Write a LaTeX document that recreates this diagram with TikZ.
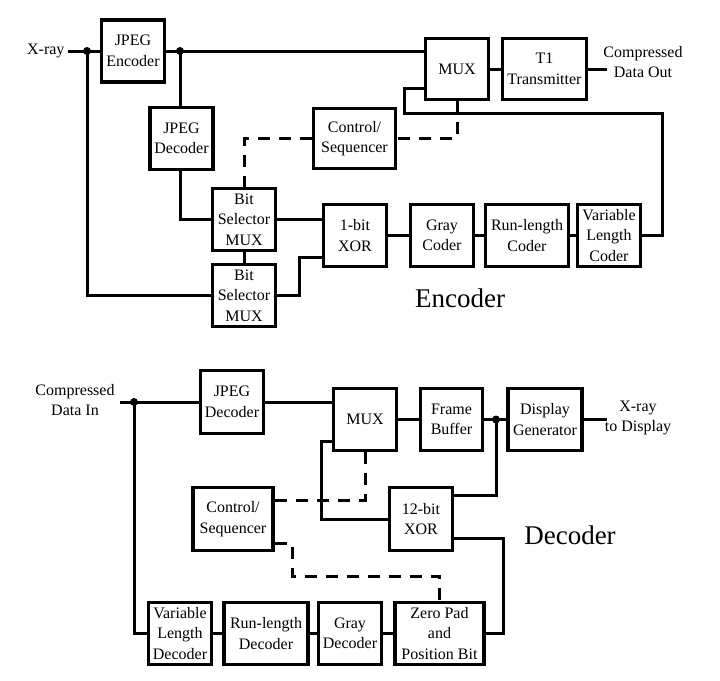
\documentclass[tikz,border=0pt]{standalone}
\usepackage{fontspec}
\setmainfont{Liberation Serif}
\usetikzlibrary{calc}

\begin{document}
\begin{tikzpicture}[x=1pt, y=-1pt,
    blk/.style={draw, line width=3.4pt, align=center, inner sep=0pt,
        font=\fontsize{16}{20.5}\selectfont, minimum width=63pt, minimum height=62pt},
    wire/.style={line width=3pt},
    ctl/.style={line width=3pt, dash pattern=on 12pt off 9pt},
    lbl/.style={align=center, font=\fontsize{16}{20.5}\selectfont},
    big/.style={font=\fontsize{27}{30}\selectfont}]
    \useasboundingbox (0,0) rectangle (720,680);

    % Encoder blocks
    \node[blk] (jenc) at (133,51) {JPEG\\Encoder};
    \node[blk] (jdec) at (181.5,138.5) {JPEG\\Decoder};
    \node[blk, minimum height=61pt] (mux) at (457,69) {MUX};
    \node[blk, minimum width=84pt, minimum height=61pt] (tx) at (544.5,69) {T1\\Transmitter};
    \node[blk, minimum width=82pt, minimum height=60pt] (ctrl) at (354.5,138.5) {Control/\\Sequencer};
    \node[blk] (bsa) at (244,219.5) {Bit\\Selector\\MUX};
    \node[blk] (bsb) at (244,295.5) {Bit\\Selector\\MUX};
    \node[blk] (xor) at (355,235.5) {1-bit\\XOR};
    \node[blk] (gray) at (442,235.5) {Gray\\Coder};
    \node[blk, minimum width=83pt] (rlc) at (527,235.5) {Run-length\\Coder};
    \node[blk] (vlc) at (609,235.5) {Variable\\Length\\Coder};

    % Encoder labels
    \coordinate (xin) at (68,51);
    \coordinate (dout) at (607,69);
    \node[lbl, anchor=east] (xlbl) at (xin) {X-ray};
    \node[lbl] (outlbl) at (643,62) {Compressed\\Data Out};
    \node[big] (enclbl) at (460,298) {Encoder};

    % Encoder junctions
    \coordinate (j1) at (87,51);
    \coordinate (j2) at (180,51);
    \coordinate (fb1) at (662,113);
    \coordinate (fb2) at (404,88);
    \coordinate (xb) at (299,257);

    % Encoder wiring
    \draw[wire] (xin) -- (jenc.west);
    \draw[wire] (jenc.east) -- (mux.west |- jenc.east);
    \draw[wire] (j2) -- (j2 |- jdec.north);
    \draw[wire] (j2 |- jdec.south) |- (bsa.west);
    \draw[wire] (j1) |- (bsb.west);
    \draw[wire] (bsa.south) -- (bsb.north);
    \draw[wire] (bsa.east) -- (xor.west |- bsa.east);
    \draw[wire] (bsb.east) -| (xb) -- (xor.west |- xb);
    \draw[wire] (xor.east) -- (gray.west);
    \draw[wire] (gray.east) -- (rlc.west);
    \draw[wire] (rlc.east) -- (vlc.west);
    \draw[wire] (vlc.east) -| (fb1) -| (fb2) -- (mux.west |- fb2);
    \draw[wire] (mux.east) -- (tx.west);
    \draw[wire] (tx.east) -- (dout);
    \draw[ctl] (mux.south) |- (ctrl.east);
    \draw[ctl] (ctrl.west) -| (bsa.north);
    \fill (j1) circle (4pt);
    \fill (j2) circle (4pt);

    % Decoder blocks
    \node[blk, minimum height=63pt] (djdec) at (232,402) {JPEG\\Decoder};
    \node[blk] (dmux) at (365,419.5) {MUX};
    \node[blk, minimum width=62pt] (fbuf) at (451.5,419.5) {Frame\\Buffer};
    \node[blk, minimum width=74pt] (dgen) at (545,419.5) {Display\\Generator};
    \node[blk, minimum width=80pt, minimum height=63pt] (dctrl) at (233,519) {Control/\\Sequencer};
    \node[blk, minimum height=63pt] (dxor) at (421,519) {12-bit\\XOR};
    \node[blk] (vld) at (180,633.5) {Variable\\Length\\Decoder};
    \node[blk, minimum width=84pt] (rld) at (266,633.5) {Run-length\\Decoder};
    \node[blk] (gdec) at (350,633.5) {Gray\\Decoder};
    \node[blk, minimum width=89pt] (zpad) at (439.5,633.5) {Zero Pad\\and\\Position Bit};

    % Decoder labels
    \coordinate (din) at (120,402);
    \coordinate (xout) at (607,419.5);
    \node[lbl] (inlbl) at (75,400) {Compressed\\Data In};
    \node[lbl] (displbl) at (638,418) {X-ray\\to Display};
    \node[big] (declbl) at (570,535) {Decoder};

    % Decoder junctions
    \coordinate (j3) at (134,402);
    \coordinate (j4) at (496,419.5);
    \coordinate (cz) at (292,576);

    % Decoder wiring
    \draw[wire] (din) -- (djdec.west);
    \draw[wire] (djdec.east) -- (dmux.west |- djdec.east);
    \draw[wire] (dmux.east) -- (fbuf.west);
    \draw[wire] (fbuf.east) -- (dgen.west);
    \draw[wire] (dgen.east) -- (xout);
    \draw[wire] (j4) |- ([yshift=-10pt]dxor.north east);
    \draw[wire] ([yshift=-22pt]dmux.west) -- ++(-10,0) |- (dxor.west);
    \draw[wire] ([yshift=-19pt]dxor.east) -- ++(49,0) |- (zpad.east);
    \draw[wire] (j3) |- (vld.west);
    \draw[wire] (vld.east) -- (rld.west);
    \draw[wire] (rld.east) -- (gdec.west);
    \draw[wire] (gdec.east) -- (zpad.west);
    \draw[ctl] (dmux.south) |- ([yshift=19pt]dctrl.east);
    \draw[ctl] ([yshift=-24pt]dctrl.east) -| (cz) -| (zpad.north);
    \fill (j3) circle (4pt);
    \fill (j4) circle (4pt);
\end{tikzpicture}
\end{document}
